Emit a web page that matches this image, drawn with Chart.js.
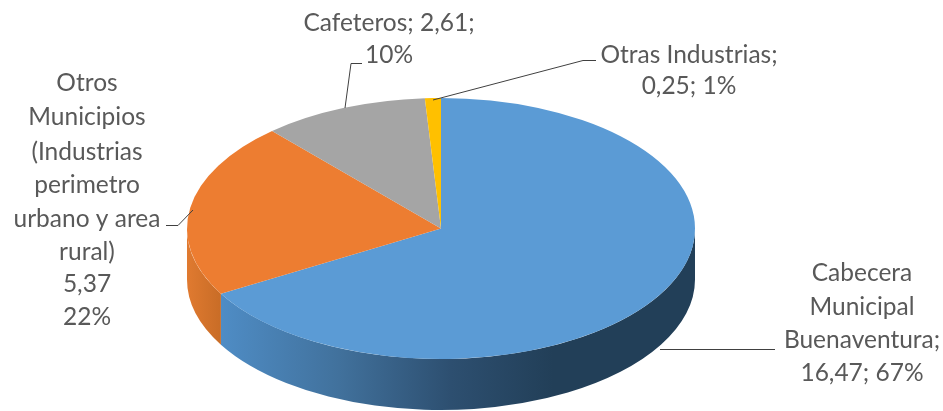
<!DOCTYPE html>
<html>
<head>
<meta charset="utf-8">
<style>html,body{margin:0;padding:0;background:#fff;overflow:hidden}canvas{display:block}</style>
<script src="https://cdn.jsdelivr.net/npm/chart.js@4"></script>
</head>
<body>
<canvas id="c" width="943" height="411"></canvas>
<script>
const categories = ["Cabecera Municipal Buenaventura", "Otros Municipios (Industrias perimetro urbano y area rural)", "Cafeteros", "Otras Industrias"];
const values = [16.47, 5.37, 2.61, 0.25];
const colors = ["#5b9bd5", "#ed7d31", "#a5a5a5", "#ffc000"];
const labelCabecera = ["Cabecera", "Municipal", "Buenaventura;", "16,47; 67%"];
const labelOtros = ["Otros", "Municipios", "(Industrias", "perimetro", "urbano y area", "rural)", "5,37", "22%"];
const labelCafeteros = ["Cafeteros; 2,61;", "10%"];
const labelOtras = ["Otras Industrias;", "0,25; 1%"];

const view = {cx: 441, cy: 228.5, rx: 254, ry: 130.5, depth: 51};

const pie3d = {
  id: 'pie3d',
  beforeDatasetsDraw(chart) {
    const ctx = chart.ctx, arcs = chart.getDatasetMeta(0).data;
    const {cx, cy, rx, ry, depth} = view;
    arcs.forEach((arc, i) => {
      const p = arc.getProps(['startAngle', 'endAngle']);
      const a0 = Math.max(p.startAngle, 0), a1 = Math.min(p.endAngle, Math.PI);
      if (a1 <= a0) return;
      ctx.save();
      ctx.beginPath();
      ctx.ellipse(cx, cy, rx, ry, 0, a0, a1);
      ctx.ellipse(cx, cy + depth, rx, ry, 0, a1, a0, true);
      ctx.closePath();
      if (i === 0) {
        const g = ctx.createLinearGradient(cx - rx, 0, cx + rx, 0);
        g.addColorStop(0.06, '#4f8dc6');
        g.addColorStop(0.30, '#41719c');
        g.addColorStop(0.52, '#2d4f70');
        g.addColorStop(0.72, '#223f58');
        g.addColorStop(1, '#223f58');
        ctx.fillStyle = g;
      } else {
        const g = ctx.createLinearGradient(cx - rx, 0, cx - rx + 40, 0);
        g.addColorStop(0, '#e07a30');
        g.addColorStop(1, '#c46a25');
        ctx.fillStyle = g;
      }
      ctx.fill();
      ctx.restore();
    });
    const a = arcs[0];
    ctx.save();
    ctx.translate(cx, cy);
    ctx.scale(rx / a.outerRadius, ry / a.outerRadius);
    ctx.translate(-a.x, -a.y);
  },
  afterDatasetsDraw(chart) {
    const ctx = chart.ctx;
    ctx.restore();
    ctx.save();
    ctx.strokeStyle = '#404040';
    ctx.lineWidth = 1;
    [
      [[660, 349.5], [775, 349.5]],
      [[345, 108], [351, 63.5], [362, 63.5]],
      [[433, 100], [583, 60.5], [596, 60.5]],
      [[193, 210], [178, 225.5], [166, 225.5]]
    ].forEach(line => {
      ctx.beginPath();
      line.forEach((pt, i) => i ? ctx.lineTo(pt[0], pt[1]) : ctx.moveTo(pt[0], pt[1]));
      ctx.stroke();
    });
    ctx.fillStyle = '#595959';
    ctx.font = '24.5px Lato';
    ctx.textAlign = 'center';
    ctx.textBaseline = 'middle';
    const put = (lines, x, ys) => lines.forEach((t, i) => ctx.fillText(t, x, ys[i]));
    put(labelCafeteros, 389, [23, 55]);
    put(labelOtras, 689, [55, 86]);
    put(labelCabecera, 862, [273, 307, 340, 373]);
    put(labelOtros, 87, [83, 117, 152, 185, 219, 252, 284, 317]);
    ctx.restore();
  }
};

new Chart(document.getElementById('c'), {
  type: 'pie',
  data: {
    labels: categories,
    datasets: [{data: values, backgroundColor: colors, borderWidth: 0, clip: false}]
  },
  options: {
    responsive: false,
    animation: false,
    layout: {padding: 0},
    plugins: {legend: {display: false}, tooltip: {enabled: false}, title: {display: false}}
  },
  plugins: [pie3d]
});
</script>
</body>
</html>
